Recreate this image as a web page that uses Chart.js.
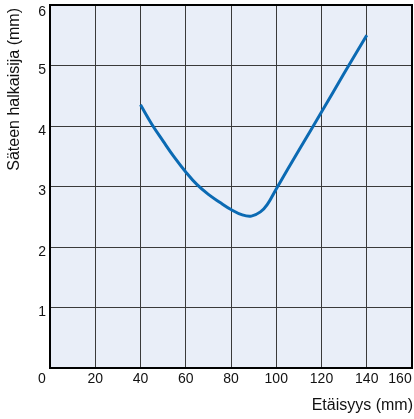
<!DOCTYPE html>
<html>
<head>
<meta charset="utf-8">
<script src="https://cdn.jsdelivr.net/npm/chart.js@4"></script>
<style>
  html, body { margin: 0; padding: 0; background: #ffffff; }
  #wrap { width: 414px; height: 419px; position: relative; }
</style>
</head>
<body>
<div id="wrap"><canvas id="chart"></canvas></div>
<script>
// Mittausdata: säteen halkaisija etäisyyden funktiona
const distances = [40, 45, 50, 55, 60, 65, 70, 75, 80, 85, 89, 93, 96, 100, 110, 120, 130, 140];
const diameters = [4.35, 4.03, 3.75, 3.48, 3.24, 3.03, 2.87, 2.74, 2.62, 2.53, 2.51, 2.58, 2.70, 2.96, 3.6, 4.23, 4.87, 5.5];

const xTicks = [0, 20, 40, 60, 80, 100, 120, 140, 160];
const yTicks = [0, 1, 2, 3, 4, 5, 6];
const xTitle = "Etäisyys (mm)";
const yTitle = "Säteen halkaisija (mm)";

const FONT = '"Liberation Sans", Arial, Helvetica, sans-serif';

// taustaväri piirtoalueelle + kehys, akselien tekstit
const decor = {
  id: "decor",
  beforeDraw(chart) {
    const { ctx, chartArea: a } = chart;
    ctx.save();
    ctx.fillStyle = "#e9eef8";
    ctx.fillRect(a.left, a.top, a.right - a.left, a.bottom - a.top);
    ctx.restore();
  },
  afterDraw(chart) {
    const { ctx, chartArea: a } = chart;
    const xs = chart.scales.x;
    const ys = chart.scales.y;
    ctx.save();
    ctx.strokeStyle = "#000";
    ctx.lineWidth = 2;
    ctx.strokeRect(a.left, a.top, a.right - a.left, a.bottom - a.top);

    ctx.fillStyle = "#111";
    ctx.font = "14px " + FONT;
    ctx.textBaseline = "middle";
    ctx.textAlign = "center";
    xTicks.forEach((v) => {
      let dx = 0;
      if (v === 0) dx = -8;
      if (v === 160) dx = -12;
      ctx.fillText(String(v), xs.getPixelForValue(v) + dx, a.bottom + 11);
    });
    ctx.textAlign = "right";
    yTicks.forEach((v) => {
      if (v === 0) return;
      const dy = v === 6 ? 7 : 5;
      ctx.fillText(String(v), 46, ys.getPixelForValue(v) + dy);
    });

    ctx.font = "16px " + FONT;
    ctx.textAlign = "right";
    ctx.fillText(xTitle, 413, 406);

    ctx.translate(15, 8);
    ctx.rotate(-Math.PI / 2);
    ctx.textAlign = "right";
    ctx.fillText(yTitle, 0, 0);
    ctx.restore();
  }
};

new Chart(document.getElementById("chart"), {
  type: "line",
  data: {
    datasets: [
      {
        data: distances.map((d, i) => ({ x: d, y: diameters[i] })),
        borderColor: "#0b6ab3",
        borderWidth: 3,
        pointRadius: 0,
        tension: 0.4,
        fill: false
      }
    ]
  },
  options: {
    responsive: true,
    maintainAspectRatio: false,
    animation: false,
    layout: { padding: { top: 5, right: 2, left: 0, bottom: 0 } },
    plugins: { legend: { display: false }, tooltip: { enabled: false } },
    scales: {
      x: {
        type: "linear",
        min: 0,
        max: 160,
        afterFit: (scale) => { scale.height = 51; },
        afterBuildTicks: (scale) => { scale.ticks = xTicks.map((v) => ({ value: v })); },
        ticks: { display: false },
        grid: { color: "#3a3a3a", lineWidth: 1, drawTicks: false },
        border: { display: false }
      },
      y: {
        min: 0,
        max: 6,
        afterFit: (scale) => { scale.width = 50; },
        afterBuildTicks: (scale) => { scale.ticks = yTicks.map((v) => ({ value: v })); },
        ticks: { display: false },
        grid: { color: "#3a3a3a", lineWidth: 1, drawTicks: false },
        border: { display: false }
      }
    }
  },
  plugins: [decor]
});
</script>
</body>
</html>
